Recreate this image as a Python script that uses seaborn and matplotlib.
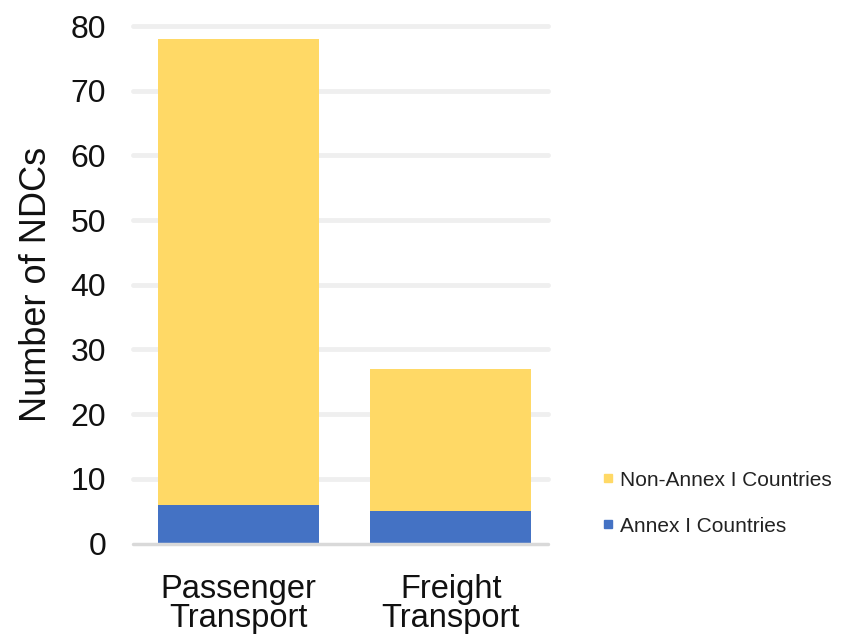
import matplotlib
matplotlib.use("Agg")
import matplotlib.pyplot as plt
import seaborn as sns
import pandas as pd
from matplotlib.lines import Line2D

categories = ["Passenger\nTransport", "Freight\nTransport"]
annex_i = [6, 5]
non_annex_i = [72, 22]
y_ticks = [0, 10, 20, 30, 40, 50, 60, 70, 80]

yellow = "#FFD966"
blue = "#4472C4"

sns.set_theme(style="white")
plt.rcParams["font.family"] = ["Liberation Sans", "DejaVu Sans"]

df = pd.DataFrame({
    "category": categories,
    "annex": annex_i,
    "non_annex": non_annex_i,
})
df["total"] = df["annex"] + df["non_annex"]

fig = plt.figure(figsize=(8.45, 6.36), dpi=100)
ax = fig.add_axes([0.157, 0.1454, 0.492, 0.8136])

# Stacked bars: full height in yellow, Annex I share drawn over the base
sns.barplot(data=df, x="category", y="total", color=yellow, width=0.76,
            saturation=1, linewidth=0, ax=ax, zorder=3)
sns.barplot(data=df, x="category", y="annex", color=blue, width=0.76,
            saturation=1, linewidth=0, ax=ax, zorder=4)

ax.set_xlim(-0.5, 1.46)
ax.set_ylim(0, 80)
ax.set_yticks(y_ticks)
ax.set_yticklabels([str(t) for t in y_ticks], fontsize=23, color="#111111")
ax.tick_params(axis="x", labelsize=23.5, length=0, pad=22, labelcolor="#111111")
ax.tick_params(axis="y", length=0, pad=19)
for lbl in ax.get_xticklabels():
    lbl.set_linespacing(0.92)
ax.set_xlabel("")
ax.set_ylabel("Number of NDCs", fontsize=26, color="#111111", labelpad=12)

for t in y_ticks[1:]:
    ax.axhline(t, color="#efefef", linewidth=3.5, zorder=1, clip_on=False)
ax.axhline(0, color="#d9d9d9", linewidth=2.5, zorder=5, clip_on=False)

for s in ax.spines.values():
    s.set_visible(False)
ax.grid(False)

handles = [
    Line2D([], [], marker="s", linestyle="none", markersize=6,
           markerfacecolor=yellow, markeredgecolor=yellow,
           label="Non-Annex I Countries"),
    Line2D([], [], marker="s", linestyle="none", markersize=6,
           markerfacecolor=blue, markeredgecolor=blue,
           label="Annex I Countries"),
]
fig.legend(handles=handles, loc="center left",
           bbox_to_anchor=(0.69, 0.209), frameon=False, fontsize=15,
           handlelength=0.6, handletextpad=0.25, labelspacing=1.3,
           labelcolor="#222222")

fig.savefig("out.png", dpi=100, facecolor="white")
